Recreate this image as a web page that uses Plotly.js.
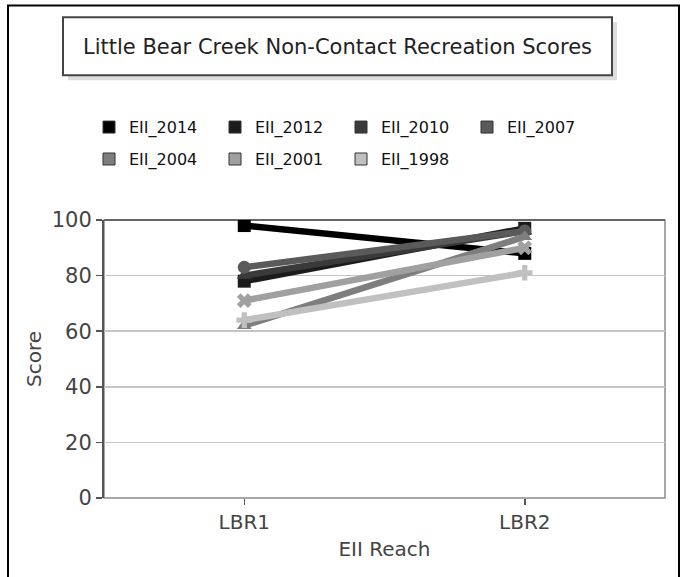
<!DOCTYPE html>
<html><head><meta charset="utf-8">
<script src="https://cdn.plot.ly/plotly-3.0.1.min.js"></script>
<style>html,body{margin:0;padding:0;background:#fff}#chart{width:686px;height:577px}</style>
</head><body><div id="chart"></div>
<script>
// Data
const reaches = ['LBR1', 'LBR2'];
const seriesNames = ['EII_2014', 'EII_2012', 'EII_2010', 'EII_2007', 'EII_2004', 'EII_2001', 'EII_1998'];
const eii2014 = [98, 88];
const eii2012 = [78, 97];
const eii2010 = [80, 96];
const eii2007 = [83, 96];
const eii2004 = [62, 94];
const eii2001 = [71, 90];
const eii1998 = [64, 81];
const yTicks = [0, 20, 40, 60, 80, 100];

const seriesValues = [eii2014, eii2012, eii2010, eii2007, eii2004, eii2001, eii1998];
const colors = ['#000000', '#1c1c1c', '#3a3a3a', '#5a5a5a', '#7e7e7e', '#a0a0a0', '#c0c0c0'];
const symbols = ['square', 'square', 'triangle-up', 'circle', 'triangle-up', 'x', 'cross'];

const FONT = 'DejaVu Sans, Verdana, sans-serif';
const traces = [];
seriesNames.forEach((name, i) => {
  traces.push({
    type: 'scatter', mode: 'lines+markers', name: name,
    x: reaches, y: seriesValues[i],
    line: {color: colors[i], width: 6.5},
    marker: {color: colors[i], symbol: symbols[i], size: 13},
    showlegend: false, hoverinfo: 'skip'
  });
});
// legend entries (square swatches)
seriesNames.forEach((name, i) => {
  traces.push({
    type: 'scatter', mode: 'markers', name: name,
    x: [null], y: [null],
    marker: {color: colors[i], symbol: 'square', size: 12, line: {color: '#333', width: 1}},
    showlegend: true, legend: i < 4 ? 'legend' : 'legend2', hoverinfo: 'skip'
  });
});

// pixel -> paper helpers (plot area 104..665 x 220..498.5)
const L = 104, R = 665, T = 220, B = 498.5;
const px = v => (v - L) / (R - L);
const py = v => (B - v) / (B - T);

const legendCommon = {
  orientation: 'h', xanchor: 'left', yanchor: 'middle',
  font: {family: FONT, size: 16, color: '#111'},
  entrywidth: 81, entrywidthmode: 'pixels', bgcolor: 'rgba(0,0,0,0)',
  itemclick: false, itemdoubleclick: false
};

const layout = {
  width: 686, height: 577,
  margin: {l: L, r: 686 - R, t: T, b: 577 - B},
  paper_bgcolor: '#ffffff', plot_bgcolor: '#ffffff',
  showlegend: true,
  title: {
    text: 'Little Bear Creek Non-Contact Recreation Scores',
    font: {family: FONT, size: 21, color: '#222'},
    x: (63 + 612) / 2 / 686, xanchor: 'center', y: 1 - 47 / 577, yanchor: 'middle'
  },
  legend: Object.assign({}, legendCommon, {x: px(89), y: py(127)}),
  legend2: Object.assign({}, legendCommon, {x: px(89), y: py(159)}),
  xaxis: {
    type: 'category', categoryarray: reaches, range: [-0.5, 1.5],
    showgrid: false, zeroline: false, showline: false,
    ticks: 'outside', ticklen: 6, tickcolor: '#555', tickwidth: 1.5,
    tickfont: {family: FONT, size: 20, color: '#444'},
    title: {text: 'EII Reach', font: {family: FONT, size: 20, color: '#444'}, standoff: 8},
    fixedrange: true
  },
  yaxis: {
    range: [0, 100], tickvals: yTicks, ticktext: yTicks.map(String),
    showgrid: true, gridcolor: '#c4c4c4', gridwidth: 1.5, zeroline: false,
    showline: true, linecolor: '#555', linewidth: 2,
    ticks: 'outside', ticklen: 6, tickcolor: '#555', tickwidth: 1.5,
    tickfont: {family: FONT, size: 21, color: '#444'},
    title: {text: 'Score', font: {family: FONT, size: 20, color: '#444'}, standoff: 5},
    fixedrange: true
  },
  shapes: [
    // outer frame
    {type: 'rect', xref: 'paper', yref: 'paper', x0: px(8), x1: px(679), y0: py(600), y1: py(5),
     line: {color: '#000', width: 2}, fillcolor: 'rgba(0,0,0,0)', layer: 'below'},
    // title box shadow
    {type: 'rect', xref: 'paper', yref: 'paper', x0: px(68), x1: px(617), y0: py(80), y1: py(22),
     line: {width: 0}, fillcolor: '#dcdcdc', layer: 'below'},
    // title box
    {type: 'rect', xref: 'paper', yref: 'paper', x0: px(63), x1: px(612), y0: py(75), y1: py(17),
     line: {color: '#444', width: 2}, fillcolor: '#ffffff', layer: 'below'},
    // plot outline
    {type: 'rect', xref: 'paper', yref: 'paper', x0: 0, x1: 1, y0: 0, y1: 1,
     line: {color: '#8a8a8a', width: 1.5}, fillcolor: 'rgba(0,0,0,0)', layer: 'below'},
    {type: 'line', xref: 'paper', yref: 'paper', x0: 0, x1: 1, y0: 1, y1: 1,
     line: {color: '#666', width: 2}, layer: 'below'}
  ]
};

Plotly.newPlot('chart', traces, layout, {displayModeBar: false, staticPlot: true});
</script>
</body></html>
